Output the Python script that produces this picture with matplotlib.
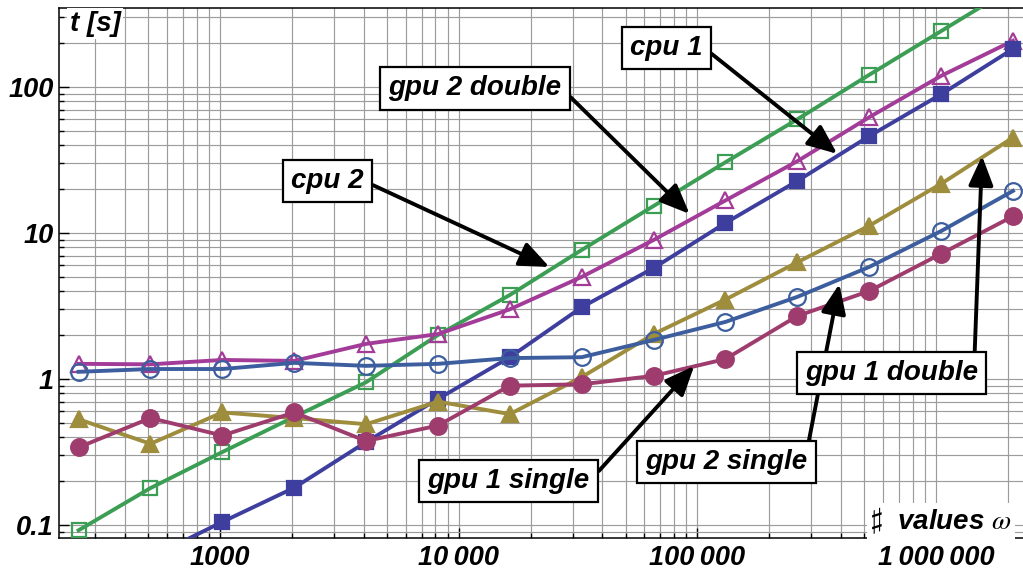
import numpy as np
import matplotlib
matplotlib.use("Agg")
import matplotlib.pyplot as plt
from matplotlib.ticker import LogLocator, FuncFormatter, NullFormatter

plt.rcParams['font.family'] = ['Liberation Sans', 'DejaVu Sans']
plt.rcParams['mathtext.fontset'] = 'stix'

# number of values (powers of two)
n_values = [256, 512, 1024, 2048, 4096, 8192, 16384, 32768, 65536,
            131072, 262144, 524288, 1048576, 2097152]

# run times in seconds
cpu1 = [np.nan, 0.06, 0.105, 0.18, 0.37, 0.73, 1.41, 3.1, 5.75, 11.7, 22.7, 46, 89, 182]
cpu2 = [0.092, 0.179, 0.316, 0.55, 0.95, 2.0, 3.76, 7.65, 15.3, 30.5, 60, 121, 241, 480]
gpu2_double = [1.27, 1.26, 1.35, 1.33, 1.74, 2.03, 3.0, 5.0, 8.95, 16.7, 31, 62, 119, 207]
gpu1_double = [0.53, 0.36, 0.59, 0.54, 0.49, 0.70, 0.575, 1.03, 2.03, 3.5, 6.3, 11.2, 21.7, 45]
gpu2_single = [1.12, 1.17, 1.17, 1.29, 1.23, 1.27, 1.39, 1.41, 1.85, 2.46, 3.65, 5.85, 10.3, 19.4]
gpu1_single = [0.34, 0.54, 0.41, 0.59, 0.376, 0.48, 0.90, 0.92, 1.05, 1.37, 2.7, 4.0, 7.2, 13]

series = [
    # label, values, color, marker, filled
    ("cpu 2", cpu2, '#3C9E55', 's', False),
    ("gpu 2 double", gpu2_double, '#A23C98', '^', False),
    ("cpu 1", cpu1, '#3E3E9E', 's', True),
    ("gpu 1 double", gpu1_double, '#9E8D3C', '^', True),
    ("gpu 2 single", gpu2_single, '#3D5E9E', 'o', False),
    ("gpu 1 single", gpu1_single, '#9E3C6E', 'o', True),
]
marker_size = {'s': 10.5, '^': 12, 'o': 12}

fig = plt.figure(figsize=(10.23, 5.72), dpi=100)
ax = fig.add_axes([59/1023, 34/572, 964/1023, 530/572])
ax.set_xscale('log')
ax.set_yscale('log')
ax.set_xlim(212, 2.31e6)
ax.set_ylim(0.0815, 347)

for label, vals, col, mk, filled in series:
    ax.plot(n_values, vals, color=col, lw=2.8, marker=mk, ms=marker_size[mk],
            mfc=col if filled else 'none', mec=col, mew=1.6, zorder=3)

# grid and ticks
ax.xaxis.set_major_locator(LogLocator(base=10, numticks=20))
ax.xaxis.set_minor_locator(LogLocator(base=10, subs=np.arange(2, 10), numticks=50))
ax.yaxis.set_major_locator(LogLocator(base=10, numticks=20))
ax.yaxis.set_minor_locator(LogLocator(base=10, subs=np.arange(2, 10), numticks=50))
ax.xaxis.set_minor_formatter(NullFormatter())
ax.yaxis.set_minor_formatter(NullFormatter())

def fmt_x(v, pos):
    if v < 10000:
        return f"{v:.0f}"
    return f"{v:,.0f}".replace(',', '\u2009')

def fmt_y(v, pos):
    return f"{v:g}"

ax.xaxis.set_major_formatter(FuncFormatter(fmt_x))
ax.yaxis.set_major_formatter(FuncFormatter(fmt_y))
ax.grid(which='both', color='#9c9c9c', lw=0.85)
ax.set_axisbelow(True)
ax.tick_params(which='both', direction='in', top=False, right=False, width=1.0, color='black')
ax.tick_params(which='major', length=7)
ax.tick_params(which='minor', length=3.5)
ax.tick_params(axis='x', pad=5)
ax.tick_params(axis='y', pad=4)
for lab in ax.get_xticklabels() + ax.get_yticklabels():
    lab.set_fontsize(19.5)
    lab.set_fontweight('bold')
    lab.set_fontstyle('italic')
for s in ['left', 'bottom', 'top']:
    ax.spines[s].set_linewidth(1.1)
ax.spines['right'].set_visible(False)

# axis labels inside the frame
ax.text(0.011, 0.995, "t [s]", transform=ax.transAxes, ha='left', va='top',
        fontsize=20, fontweight='bold', style='italic', zorder=6,
        bbox=dict(boxstyle='square,pad=0.1', fc='white', ec='none'))
ax.text(0.988, 0.003, r"$\sharp$  values $\omega$", transform=ax.transAxes,
        ha='right', va='bottom', fontsize=20, fontweight='bold', style='italic',
        zorder=6, bbox=dict(boxstyle='square,pad=0.12', fc='white', ec='none'))

# callouts: label -> (arrow tip, box centre, arrow start on the box)
callouts = {
    "cpu 1": ((385000, 34.8), (74100, 185), (1.0, 0.55)),
    "gpu 2 double": ((92700, 13.5), (11700, 98), (1.0, 0.5)),
    "cpu 2": ((24000, 5.85), (2830, 22.7), (1.0, 0.5)),
    "gpu 1 single": ((97000, 1.23), (16200, 0.2), (1.0, 0.5)),
    "gpu 2 single": ((393000, 4.47), (132000, 0.27), (1.0, 1.0)),
    "gpu 1 double": ((1556000, 33.7), (649000, 1.1), (0.98, 1.0)),
}
for label, (tip, box, rel) in callouts.items():
    ax.annotate(label, xy=tip, xytext=box, textcoords='data',
                ha='center', va='center', fontsize=20, fontweight='bold',
                style='italic', zorder=5,
                bbox=dict(boxstyle='square,pad=0.3', fc='white', ec='black', lw=1.6),
                arrowprops=dict(arrowstyle='-|>,head_length=1.0,head_width=0.42',
                                mutation_scale=18, lw=2.8, color='black',
                                relpos=rel, shrinkA=0, shrinkB=0))

fig.savefig("out.png", dpi=100)
